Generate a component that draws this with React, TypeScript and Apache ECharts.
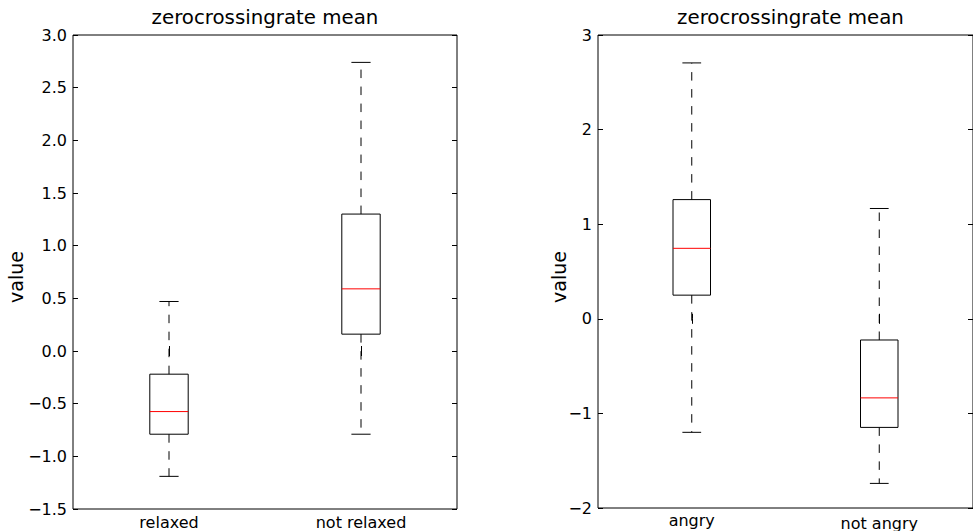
import React, { useEffect, useRef } from 'react';
import * as echarts from 'echarts';

// ---- data ----
const titleText = 'zerocrossingrate mean';
const yName = 'value';

const leftCategories = ['relaxed', 'not relaxed'];
// [min whisker, q1, median, q3, max whisker]
const leftBoxes = [
  [-1.19, -0.79, -0.575, -0.22, 0.47],
  [-0.79, 0.16, 0.59, 1.3, 2.74],
];
const leftTicks = { min: -1.5, max: 3.0, interval: 0.5 };

const rightCategories = ['angry', 'not angry'];
const rightBoxes = [
  [-1.2, 0.25, 0.745, 1.26, 2.705],
  [-1.74, -1.148, -0.836, -0.224, 1.166],
];
const rightTicks = { min: -2, max: 3, interval: 1 };

const FONT = 'DejaVu Sans';

const minusFix = (s: string) => s.replace('-', '\u2212');
const hasAscender = (s: string) => /[bdfhiklt]|[A-Z0-9]/.test(s);

const renderBox = (params: any, api: any) => {
  const idx = api.value(0);
  const pts = [1, 2, 3, 4, 5].map((i) => api.coord([idx, api.value(i)]));
  const cx = pts[0][0];
  const [lo, q1, med, q3, hi] = pts.map((p: number[]) => p[1]);
  const band = api.size([1, 0])[0];
  const bw = band * 0.2;
  const cw = bw / 2;
  const dash = { stroke: '#000', lineWidth: 1, lineDash: [8.5, 8.5], fill: 'none' };
  const solid = { stroke: '#000', lineWidth: 1, fill: 'none' };
  return {
    type: 'group',
    children: [
      { type: 'line', shape: { x1: cx, y1: q3, x2: cx, y2: hi }, style: dash },
      { type: 'line', shape: { x1: cx, y1: q1, x2: cx, y2: lo }, style: dash },
      { type: 'line', shape: { x1: cx - cw / 2, y1: hi, x2: cx + cw / 2, y2: hi }, style: solid },
      { type: 'line', shape: { x1: cx - cw / 2, y1: lo, x2: cx + cw / 2, y2: lo }, style: solid },
      {
        type: 'rect',
        shape: { x: cx - bw / 2, y: q3, width: bw, height: q1 - q3 },
        style: { fill: 'none', stroke: '#000', lineWidth: 1 },
      },
      {
        type: 'line',
        shape: { x1: cx - bw / 2, y1: med, x2: cx + bw / 2, y2: med },
        style: { stroke: '#ff0000', lineWidth: 1 },
      },
    ],
  };
};

const grids = [
  { left: 73, top: 35, width: 384, height: 474 },
  { left: 598, top: 35, width: 385, height: 474 },
];

const catLabel = (margin: number) => ({
  fontFamily: FONT,
  fontSize: 16,
  color: '#000',
  margin,
  formatter: (v: string) => (hasAscender(v) ? `{n|${v}}` : `{u|${v}}`),
  rich: {
    n: { fontFamily: FONT, fontSize: 16, color: '#000', lineHeight: 16 },
    u: { fontFamily: FONT, fontSize: 16, color: '#000', lineHeight: 10 },
  },
});

const tick = { show: true, inside: true, length: 5, lineStyle: { color: '#000', width: 1 } };

export default function App() {
  const ref = useRef<HTMLDivElement>(null);
  useEffect(() => {
    document.body.style.margin = '0';
    if (!ref.current) return;
    const chart = echarts.init(ref.current, undefined, { renderer: 'svg' });
    const makeX = (gi: number, cats: string[], pos: 'bottom' | 'top', margin: number) => ({
      type: 'category',
      gridIndex: gi,
      position: pos,
      data: cats,
      boundaryGap: true,
      axisLine: { show: false },
      axisTick: { ...tick, alignWithLabel: true },
      axisLabel: pos === 'bottom' ? catLabel(margin) : { show: false },
      splitLine: { show: false },
    });
    const makeY = (gi: number, t: any, pos: 'left' | 'right', fmt: (v: number) => string) => ({
      type: 'value',
      gridIndex: gi,
      position: pos,
      min: t.min,
      max: t.max,
      interval: t.interval,
      axisLine: { show: false },
      axisTick: tick,
      axisLabel:
        pos === 'left'
          ? { fontFamily: FONT, fontSize: 16, color: '#000', margin: 6, formatter: fmt }
          : { show: false },
      splitLine: { show: false },
    });
    const fmtL = (v: number) => minusFix(v.toFixed(1));
    const fmtR = (v: number) => minusFix(String(Math.round(v)));
    chart.setOption({
      animation: false,
      grid: grids.map((g) => ({ ...g, show: true, borderColor: '#000', borderWidth: 1, backgroundColor: 'transparent' })),
      xAxis: [
        makeX(0, leftCategories, 'bottom', 5),
        makeX(0, leftCategories, 'top', 5),
        makeX(1, rightCategories, 'bottom', 7),
        makeX(1, rightCategories, 'top', 7),
      ],
      yAxis: [
        makeY(0, leftTicks, 'left', fmtL),
        makeY(0, leftTicks, 'right', fmtL),
        makeY(1, rightTicks, 'left', fmtR),
        makeY(1, rightTicks, 'right', fmtR),
      ],
      series: [
        {
          type: 'custom',
          xAxisIndex: 0,
          yAxisIndex: 0,
          renderItem: renderBox,
          encode: { x: 0, y: [1, 2, 3, 4, 5] },
          data: leftBoxes.map((b, i) => [i, ...b]),
          silent: true,
        },
        {
          type: 'custom',
          xAxisIndex: 2,
          yAxisIndex: 2,
          renderItem: renderBox,
          encode: { x: 0, y: [1, 2, 3, 4, 5] },
          data: rightBoxes.map((b, i) => [i, ...b]),
          silent: true,
        },
      ],
      graphic: [
        {
          type: 'text',
          x: 73 + 384 / 2,
          y: 17.5,
          style: { text: titleText, fontFamily: FONT, fontSize: 19.8, fill: '#000', align: 'center', verticalAlign: 'middle' },
        },
        {
          type: 'text',
          x: 598 + 385 / 2,
          y: 17.5,
          style: { text: titleText, fontFamily: FONT, fontSize: 19.8, fill: '#000', align: 'center', verticalAlign: 'middle' },
        },
        {
          type: 'text',
          x: 16,
          y: 277,
          rotation: Math.PI / 2,
          style: { text: yName, fontFamily: FONT, fontSize: 19, fill: '#000', align: 'center', verticalAlign: 'middle' },
        },
        {
          type: 'text',
          x: 558.5,
          y: 277,
          rotation: Math.PI / 2,
          style: { text: yName, fontFamily: FONT, fontSize: 19, fill: '#000', align: 'center', verticalAlign: 'middle' },
        },
      ],
    });
    return () => chart.dispose();
  }, []);
  return <div ref={ref} style={{ width: 973, height: 531 }} />;
}
